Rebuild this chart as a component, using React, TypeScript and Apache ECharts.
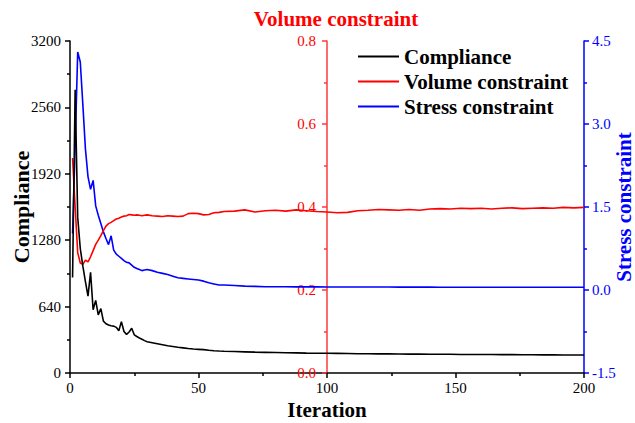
import React, { useEffect, useRef } from "react";
import * as echarts from "echarts";

const iterations = [
  1, 2, 3, 4, 5, 6, 7, 8, 9, 10, 11, 12, 13, 14, 15, 16, 17, 18, 19, 20, 21, 22, 23, 24, 25, 26, 27, 28, 29,
  30, 32, 34, 36, 38, 40, 42, 44, 46, 48, 50, 52, 54, 56, 58, 60,
  64, 68, 72, 76, 80, 84, 88, 92, 96, 100, 104, 108, 112, 116, 120, 124, 128, 132, 136, 140,
  144, 148, 152, 156, 160, 164, 168, 172, 176, 180, 184, 188, 192, 196, 200,
];

const compliance = [
  920, 2730, 1500, 1200, 1030, 880, 740, 970, 610, 700, 560, 620, 500, 475, 462, 455, 452, 440, 408, 495, 400, 372, 395, 432, 368, 352, 338, 325, 312,
  302, 292, 282, 272, 262, 255, 248, 242, 236, 231, 228, 225, 219, 215, 212, 210,
  207, 204, 201, 199, 197, 195, 194, 192, 191, 190, 189, 188, 186, 185, 184, 184, 183, 182, 182, 181,
  181, 180, 179, 179, 178, 178, 177, 177, 176, 176, 175, 175, 174, 174, 173,
];

const volume = [
  0.518, 0.4, 0.29, 0.265, 0.262, 0.272, 0.268, 0.28, 0.295, 0.31, 0.32, 0.331, 0.343, 0.354, 0.36, 0.363, 0.367, 0.371, 0.373, 0.376, 0.378, 0.379, 0.382, 0.381, 0.38, 0.381, 0.38, 0.379, 0.38,
  0.381, 0.379, 0.378, 0.377, 0.379, 0.378, 0.377, 0.378, 0.384, 0.385, 0.384, 0.381, 0.382, 0.386, 0.387, 0.389,
  0.39, 0.393, 0.388, 0.391, 0.392, 0.39, 0.393, 0.391, 0.389, 0.388, 0.386, 0.387, 0.391, 0.392, 0.394, 0.393, 0.392, 0.394, 0.392, 0.395,
  0.396, 0.395, 0.397, 0.396, 0.397, 0.395, 0.397, 0.398, 0.396, 0.397, 0.398, 0.397, 0.399, 0.398, 0.399,
];

const stress = [
  1.02, 2.6, 4.3, 4.12, 3.35, 2.55, 2.05, 1.82, 1.98, 1.52, 1.35, 1.2, 1.05, 0.93, 0.82, 0.98, 0.72, 0.65, 0.61, 0.57, 0.53, 0.5, 0.49, 0.45, 0.41, 0.39, 0.37, 0.35, 0.36,
  0.37, 0.35, 0.32, 0.3, 0.28, 0.25, 0.22, 0.21, 0.2, 0.19, 0.18, 0.16, 0.13, 0.11, 0.09, 0.09,
  0.08, 0.07, 0.065, 0.06, 0.06, 0.058, 0.057, 0.056, 0.056, 0.055, 0.055, 0.054, 0.054, 0.053, 0.053, 0.053, 0.052, 0.052, 0.052, 0.052,
  0.051, 0.051, 0.051, 0.051, 0.05, 0.05, 0.05, 0.05, 0.05, 0.05, 0.05, 0.05, 0.05, 0.05, 0.05,
];

const xTicks = { min: 0, max: 200, interval: 50 };
const complianceTicks = { min: 0, max: 3200, interval: 640 };
const volumeTicks = { min: 0, max: 0.8, interval: 0.2 };
const stressTicks = { min: -1.5, max: 4.5, interval: 1.5 };

const SERIF = '"Times New Roman", "Liberation Serif", "DejaVu Serif", serif';

export default function App() {
  const ref = useRef<HTMLDivElement>(null);
  useEffect(() => {
    if (!ref.current) return;
    const chart = echarts.init(ref.current, null, { renderer: "svg" });
    const pair = (vals: number[]) => iterations.map((it, i) => [it, vals[i]]);
    const RED = "#ff0000";
    const BLUE = "#0000ff";
    const RED_AXIS = "#ff3838";
    chart.setOption({
      animation: false,
      textStyle: { fontFamily: SERIF },
      grid: { left: 70, right: 51, top: 41, bottom: 50, containLabel: false, outerBoundsMode: "none" },
      legend: {
        orient: "vertical",
        left: 353,
        top: 41,
        itemWidth: 41,
        itemHeight: 2,
        itemGap: 4,
        icon: "rect",
        textStyle: { fontFamily: SERIF, fontWeight: "bold", fontSize: 21, color: "#000" },
        data: ["Compliance", "Volume constraint", "Stress constraint"],
      },
      xAxis: {
        type: "value",
        ...xTicks,
        name: "Iteration",
        nameLocation: "middle",
        nameGap: 26,
        nameMoveOverlap: false,
        nameTextStyle: { fontFamily: SERIF, fontWeight: "bold", fontSize: 21, color: "#000" },
        axisLine: { lineStyle: { color: "#000", width: 1.5 } },
        axisTick: { show: true, length: 5, lineStyle: { color: "#000", width: 1.5 } },
        minorTick: { show: true, splitNumber: 2, length: 3, lineStyle: { color: "#000", width: 1.5 } },
        axisLabel: { fontFamily: SERIF, fontSize: 15, color: "#000", margin: 7 },
        splitLine: { show: false },
      },
      yAxis: [
        {
          type: "value",
          ...complianceTicks,
          position: "left",
          name: "Compliance",
          nameLocation: "middle",
          nameGap: 38,
          nameRotate: 90,
          nameMoveOverlap: false,
          nameTextStyle: { fontFamily: SERIF, fontWeight: "bold", fontSize: 22, color: "#000" },
          axisLine: { show: true, lineStyle: { color: "#000", width: 1.5 } },
          axisTick: { show: true, length: 5, lineStyle: { color: "#000", width: 1.5 } },
          minorTick: { show: true, splitNumber: 2, length: 3, lineStyle: { color: "#000", width: 1.5 } },
          axisLabel: { fontFamily: SERIF, fontSize: 15, color: "#000", margin: 9, formatter: (v: number) => String(v) },
          splitLine: { show: false },
        },
        {
          type: "value",
          ...volumeTicks,
          position: "left",
          offset: -257,
          name: "Volume constraint",
          nameLocation: "end",
          nameGap: 12,
          nameMoveOverlap: false,
          nameTextStyle: { fontFamily: SERIF, fontWeight: "bold", fontSize: 21, color: RED, padding: [0, 0, 0, 18] },
          axisLine: { show: true, lineStyle: { color: RED_AXIS, width: 1.5 } },
          axisTick: { show: true, length: 5, lineStyle: { color: RED_AXIS, width: 1.5 } },
          minorTick: { show: true, splitNumber: 2, length: 3, lineStyle: { color: RED_AXIS, width: 1.5 } },
          axisLabel: {
            fontFamily: SERIF,
            fontSize: 15,
            color: RED,
            margin: 11,
            formatter: (v: number) => v.toFixed(1),
          },
          splitLine: { show: false },
        },
        {
          type: "value",
          ...stressTicks,
          position: "right",
          name: "Stress constraint",
          nameLocation: "middle",
          nameGap: 29,
          nameRotate: 90,
          nameMoveOverlap: false,
          nameTextStyle: { fontFamily: SERIF, fontWeight: "bold", fontSize: 21, color: BLUE },
          axisLine: { show: true, lineStyle: { color: BLUE, width: 1.5 } },
          axisTick: { show: true, length: 5, lineStyle: { color: BLUE, width: 1.5 } },
          minorTick: { show: true, splitNumber: 2, length: 3, lineStyle: { color: BLUE, width: 1.5 } },
          axisLabel: {
            fontFamily: SERIF,
            fontSize: 15,
            color: BLUE,
            margin: 8,
            formatter: (v: number) => v.toFixed(1),
          },
          splitLine: { show: false },
        },
      ],
      series: [
        {
          name: "Compliance",
          type: "line",
          yAxisIndex: 0,
          data: pair(compliance),
          showSymbol: false,
          symbol: "none",
          lineStyle: { color: "#000", width: 1.6 },
          itemStyle: { color: "#000" },
          z: 3,
        },
        {
          name: "Volume constraint",
          type: "line",
          yAxisIndex: 1,
          data: pair(volume),
          showSymbol: false,
          symbol: "none",
          lineStyle: { color: RED, width: 1.6 },
          itemStyle: { color: RED },
          z: 2,
        },
        {
          name: "Stress constraint",
          type: "line",
          yAxisIndex: 2,
          data: pair(stress),
          showSymbol: false,
          symbol: "none",
          lineStyle: { color: BLUE, width: 1.6 },
          itemStyle: { color: BLUE },
          z: 1,
        },
      ],
    });
    return () => chart.dispose();
  }, []);
  return <div ref={ref} style={{ width: 635, height: 423, position: "absolute", left: 0, top: 0 }} />;
}
